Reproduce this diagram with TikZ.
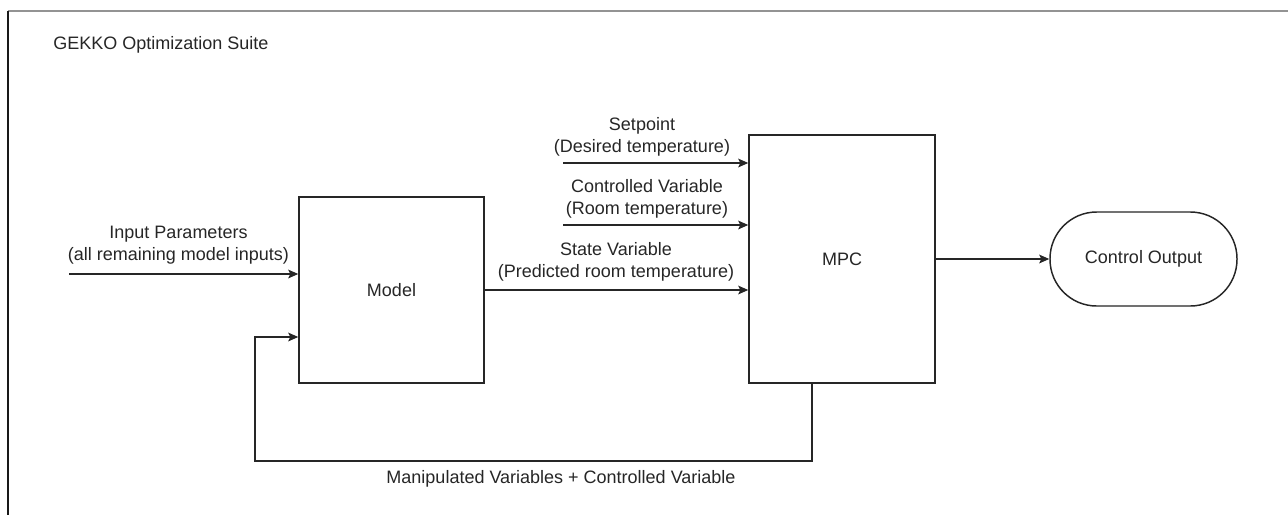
\documentclass[tikz,border=0pt]{standalone}
\usepackage{fontspec}
\setmainfont{Liberation Sans}
\usetikzlibrary{arrows.meta}
\begin{document}
\begin{tikzpicture}[x=0.75pt,y=-0.75pt,
  font=\fontsize{13.5pt}{16.5pt}\selectfont,
  every node/.style={text=black!85},
  block/.style={draw=black!85, line width=1.1pt, fill=white, inner sep=0pt},
  lbl/.style={inner sep=0pt, align=center},
  flow/.style={draw=black!85, line width=1.1pt, -{Stealth[length=7.5pt,width=6.5pt,inset=1.5pt]}}]

\useasboundingbox (0,0) rectangle (1288,515);

% outer frame of the suite
\draw[gray!85, line width=1.1pt] (8,11) -- (1288,11);
\draw[black!90, line width=1.1pt] (8,11) -- (8,515);
\node[lbl, anchor=west] (title) at (53,45) {GEKKO Optimization Suite};

% main blocks
\node[block, minimum width=138.75pt, minimum height=139.5pt] (model) at (391.5,290) {Model};
\node[block, minimum width=139.5pt, minimum height=186pt] (mpc) at (842,259) {MPC};
\node[block, rounded corners=35pt, minimum width=140.25pt, minimum height=70.5pt] (out) at (1143.5,259) {Control Output};

% free ends of the connectors
\coordinate (inStart) at (69,274);
\coordinate (spStart) at (563,163);
\coordinate (cvStart) at (563,225);
\coordinate (fbDrop) at (812,461);
\coordinate (fbLeft) at (255,461);
\coordinate (fbIn) at (255,337);

% connectors
\draw[flow] (inStart) -- (inStart -| model.west);
\draw[flow] (spStart) -- (spStart -| mpc.west);
\draw[flow] (cvStart) -- (cvStart -| mpc.west);
\draw[flow] (model.east) -- (model.east -| mpc.west);
\draw[flow] (mpc.east) -- (out.west);
\draw[flow] (fbDrop |- mpc.south) -- (fbDrop) -- (fbLeft) -- (fbIn) -- (fbIn -| model.west);

% connector labels
\node[lbl] (inLbl) at (178.5,245) {Input Parameters\\(all remaining model inputs)};
\node[lbl] (spLbl) at (642,137) {Setpoint\\(Desired temperature)};
\node[lbl] (cvLbl) at (647,199) {Controlled Variable\\(Room temperature)};
\node[lbl] (svLbl) at (616,262) {State Variable\\(Predicted room temperature)};
\node[lbl] (fbLbl) at (561,479) {Manipulated Variables + Controlled Variable};

\end{tikzpicture}
\end{document}
